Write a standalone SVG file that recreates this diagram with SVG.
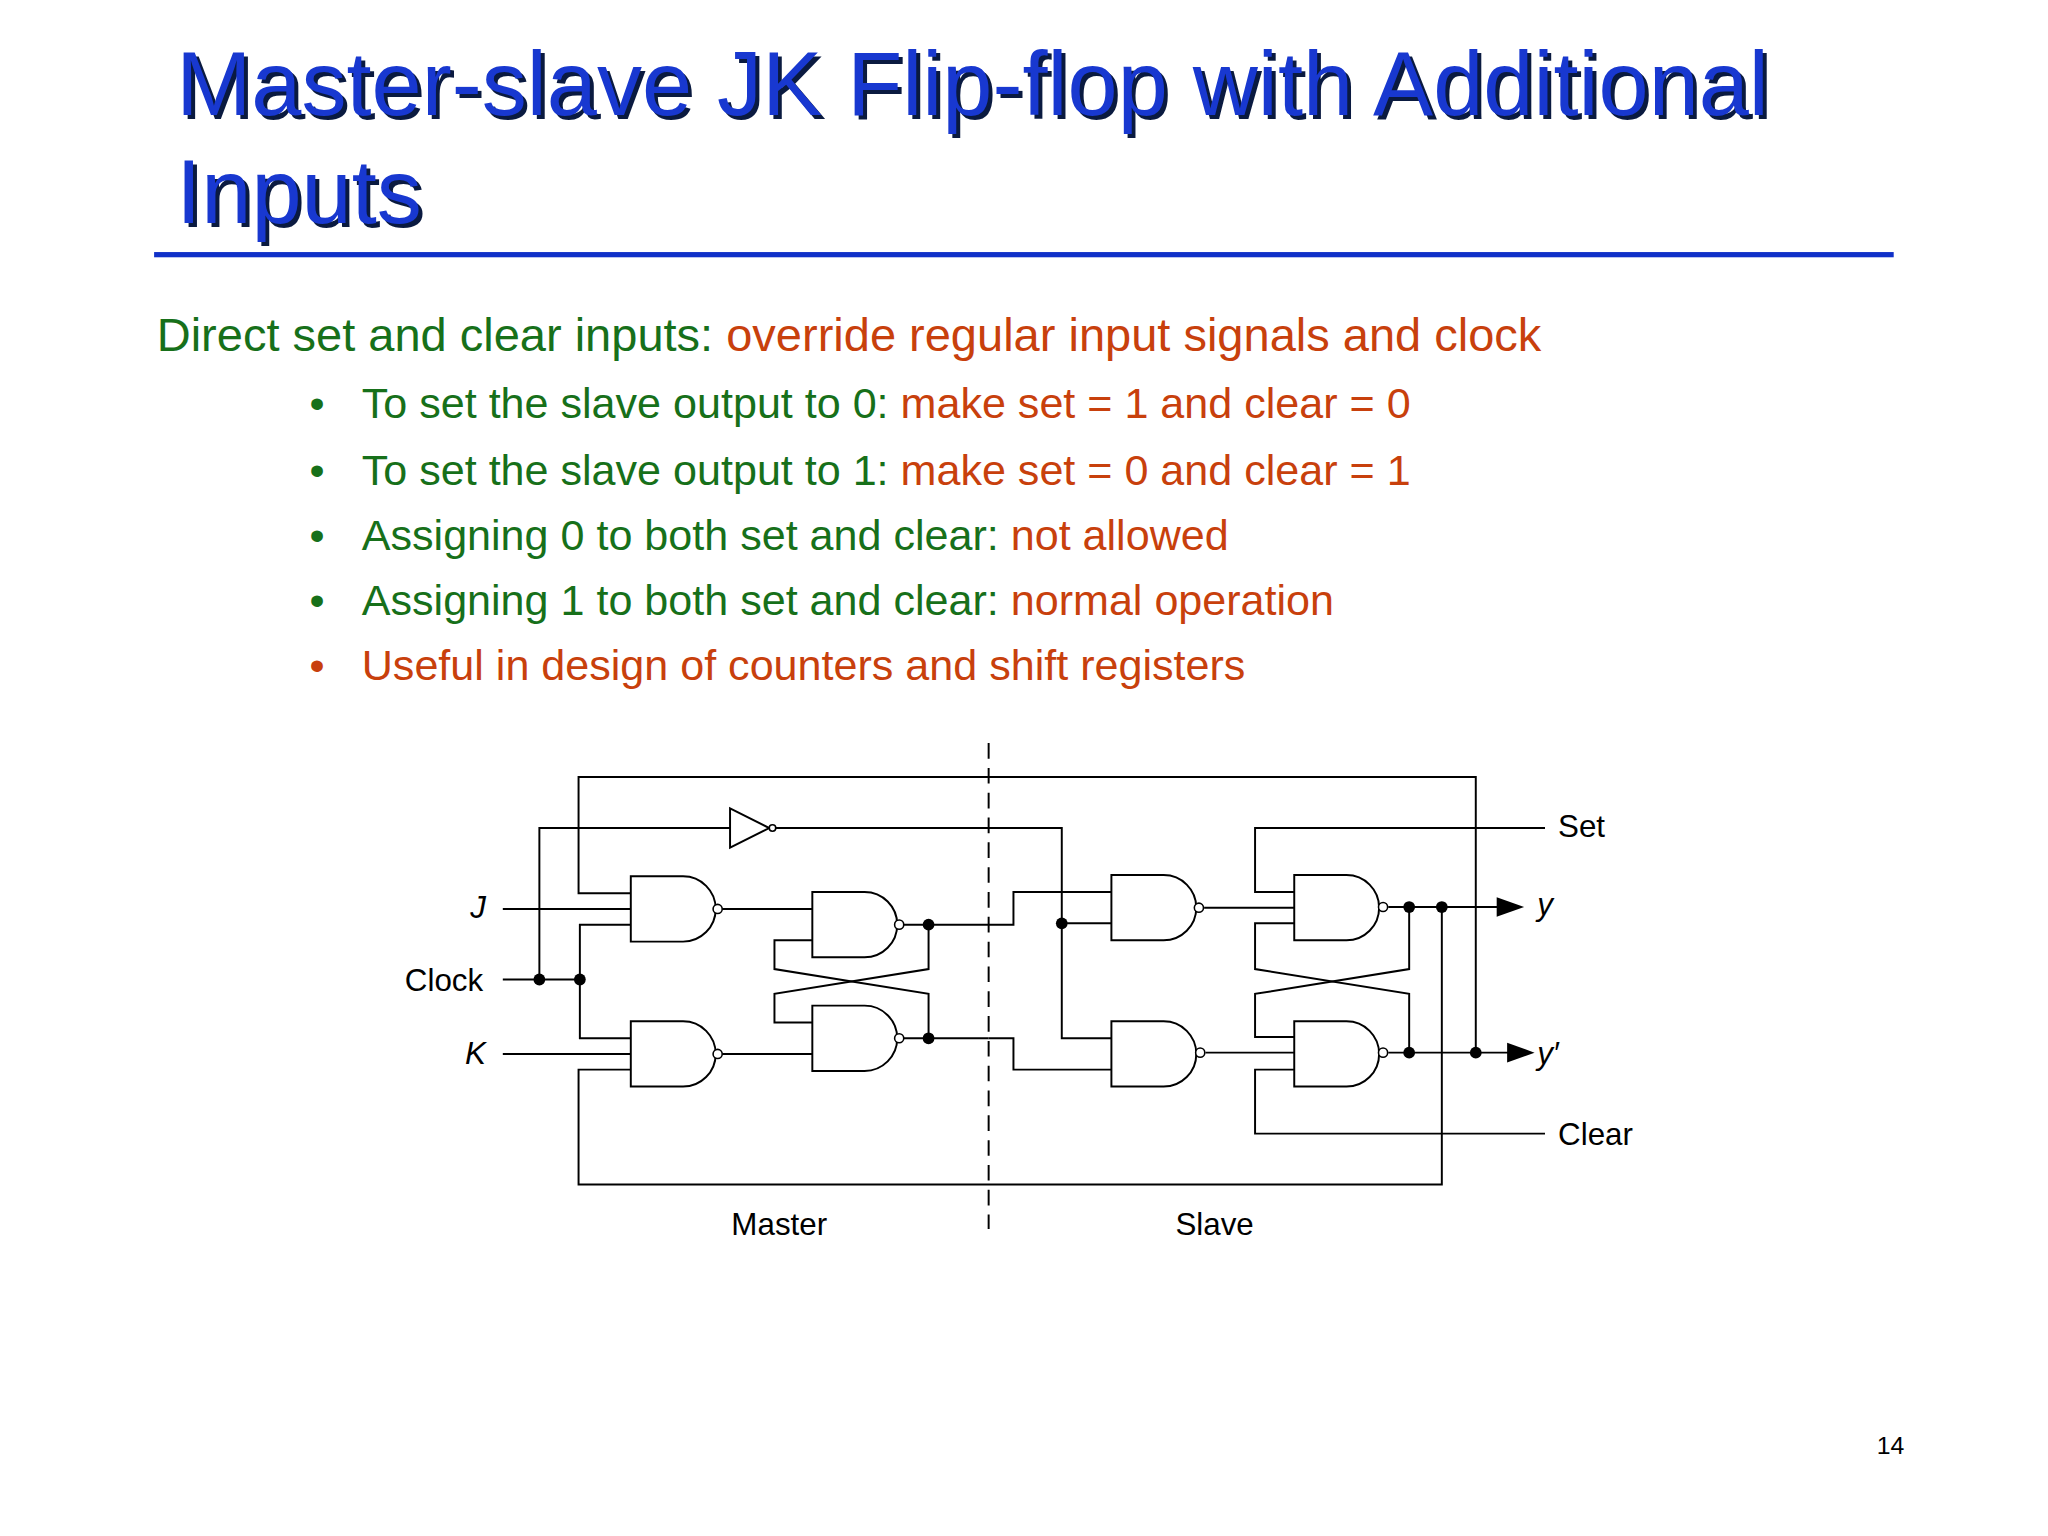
<svg xmlns="http://www.w3.org/2000/svg" width="2048" height="1536" viewBox="0 0 2048 1536">
<defs>
<style>
.w{fill:none;stroke:#000;stroke-width:1.5}
.g{fill:#fff;stroke:#000;stroke-width:1.5}
.b{fill:#fff;stroke:#000;stroke-width:1.2}
.d{fill:#000}
.t{font-family:"Liberation Sans",Arial,sans-serif;fill:#000;font-size:24px}
.gr{fill:#17701a}
.rd{fill:#c8400c}
.bt{font-family:"Liberation Sans",Arial,sans-serif;font-size:33px}
</style>
<path id="nand" d="M0,0 H40 A25 25 0 0 1 40,50 H0 Z"/>
</defs>
<rect width="2048" height="1536" fill="#fff"/>
<g transform="scale(1.306)">
<g id="title" font-family="'Liberation Sans',Arial,sans-serif" font-size="69">
<text x="138" y="91" fill="#0a1a40">Master-slave JK Flip-flop with Additional</text>
<text x="138" y="174" fill="#0a1a40">Inputs</text>
<text x="135" y="88" fill="#1838d0">Master-slave JK Flip-flop with Additional</text>
<text x="135" y="171" fill="#1838d0">Inputs</text>
<rect x="118" y="193" width="1332" height="4" fill="#1030c8"/>
</g>
<g id="body" class="bt">
<text x="120" y="269" font-size="36"><tspan class="gr">Direct set and clear inputs: </tspan><tspan class="rd">override regular input signals and clock</tspan></text>
<text x="237" y="320" class="gr">•</text><text x="277" y="320"><tspan class="gr">To set the slave output to 0: </tspan><tspan class="rd">make set = 1 and clear = 0</tspan></text>
<text x="237" y="371" class="gr">•</text><text x="277" y="371"><tspan class="gr">To set the slave output to 1: </tspan><tspan class="rd">make set = 0 and clear = 1</tspan></text>
<text x="237" y="421" class="gr">•</text><text x="277" y="421"><tspan class="gr">Assigning 0 to both set and clear: </tspan><tspan class="rd">not allowed</tspan></text>
<text x="237" y="471" class="gr">•</text><text x="277" y="471"><tspan class="gr">Assigning 1 to both set and clear: </tspan><tspan class="rd">normal operation</tspan></text>
<text x="237" y="521" class="rd">•</text><text x="277" y="521" class="rd">Useful in design of counters and shift registers</text>
</g>
<g id="connectors" class="w">
<line x1="757" y1="569" x2="757" y2="941" stroke-dasharray="12,7"/>
<!-- feedback loops -->
<polyline points="1130,806 1130,595 443,595 443,684 483,684"/>
<polyline points="1104,694.5 1104,907 443,907 443,819 483,819"/>
<!-- inputs -->
<line x1="385" y1="696" x2="483" y2="696"/>
<line x1="385" y1="807" x2="483" y2="807"/>
<line x1="385" y1="750" x2="444" y2="750"/>
<polyline points="483,708 444,708 444,795 483,795"/>
<polyline points="413,750 413,634 559,634"/>
<polyline points="594,634 813,634 813,795 851,795"/>
<!-- master latch -->
<line x1="553" y1="696" x2="622" y2="696"/>
<line x1="553" y1="807" x2="622" y2="807"/>
<polyline points="622,720 593,720 593,742 711,761 711,795"/>
<polyline points="622,783 593,783 593,761 711,742 711,708"/>
<line x1="690" y1="708" x2="757" y2="708"/>
<line x1="690" y1="795" x2="757" y2="795"/>
<!-- master to slave -->
<polyline points="757,708 776,708 776,683 851,683"/>
<polyline points="757,795 776,795 776,819 851,819"/>
<line x1="813" y1="707" x2="851" y2="707"/>
<!-- slave latch -->
<line x1="922" y1="695" x2="991" y2="695"/>
<line x1="923" y1="806" x2="991" y2="806"/>
<polyline points="1183,634 961,634 961,683 991,683"/>
<polyline points="1183,868 961,868 961,819 991,819"/>
<polyline points="991,707 961,707 961,742 1079,761 1079,806"/>
<polyline points="991,794 961,794 961,761 1079,742 1079,694.5"/>
<line x1="1063" y1="694.5" x2="1150" y2="694.5"/>
<line x1="1063" y1="806" x2="1156" y2="806"/>
</g>
<g id="inverter"><path class="g" d="M559,619 L589,634 L559,649 Z"/><circle class="b" cx="591.5" cy="634" r="2.5"/></g>
<g id="m1"><use href="#nand" class="g" x="483" y="671"/><circle class="b" cx="549.5" cy="696" r="3.5"/></g>
<g id="m4"><use href="#nand" class="g" x="483" y="782"/><circle class="b" cx="549.5" cy="807" r="3.5"/></g>
<g id="m2"><use href="#nand" class="g" x="622" y="683"/><circle class="b" cx="688.5" cy="708" r="3.5"/></g>
<g id="m3"><use href="#nand" class="g" x="622" y="770"/><circle class="b" cx="688.5" cy="795" r="3.5"/></g>
<g id="s1"><use href="#nand" class="g" x="851" y="670"/><circle class="b" cx="918" cy="695" r="3.5"/></g>
<g id="s2"><use href="#nand" class="g" x="851" y="782"/><circle class="b" cx="919" cy="806" r="3.5"/></g>
<g id="s3"><use href="#nand" class="g" x="991" y="670"/><circle class="b" cx="1059" cy="694.5" r="3.5"/></g>
<g id="s4"><use href="#nand" class="g" x="991" y="782"/><circle class="b" cx="1059" cy="806" r="3.5"/></g>
<g id="dots" class="d">
<circle cx="413" cy="750" r="4.5"/><circle cx="444" cy="750" r="4.5"/>
<circle cx="711" cy="708" r="4.5"/><circle cx="711" cy="795" r="4.5"/>
<circle cx="813" cy="707" r="4.5"/>
<circle cx="1079" cy="694.5" r="4.5"/><circle cx="1104" cy="694.5" r="4.5"/>
<circle cx="1079" cy="806" r="4.5"/><circle cx="1130" cy="806" r="4.5"/>
<path d="M1146,687 L1167,694.5 L1146,702 Z"/>
<path d="M1154,798.5 L1175,806 L1154,813.5 Z"/>
</g>
<g id="labels" class="t">
<text x="360" y="703" font-style="italic">J</text>
<text x="310" y="759">Clock</text>
<text x="356" y="815" font-style="italic">K</text>
<text x="1193" y="641">Set</text>
<text x="1177" y="701" font-style="italic">y</text>
<text x="1177" y="815" font-style="italic">y′</text>
<text x="1193" y="877">Clear</text>
<text x="560" y="946">Master</text>
<text x="900" y="946">Slave</text>
<text x="1437" y="1113" font-size="19">14</text>
</g>
</g>
</svg>
